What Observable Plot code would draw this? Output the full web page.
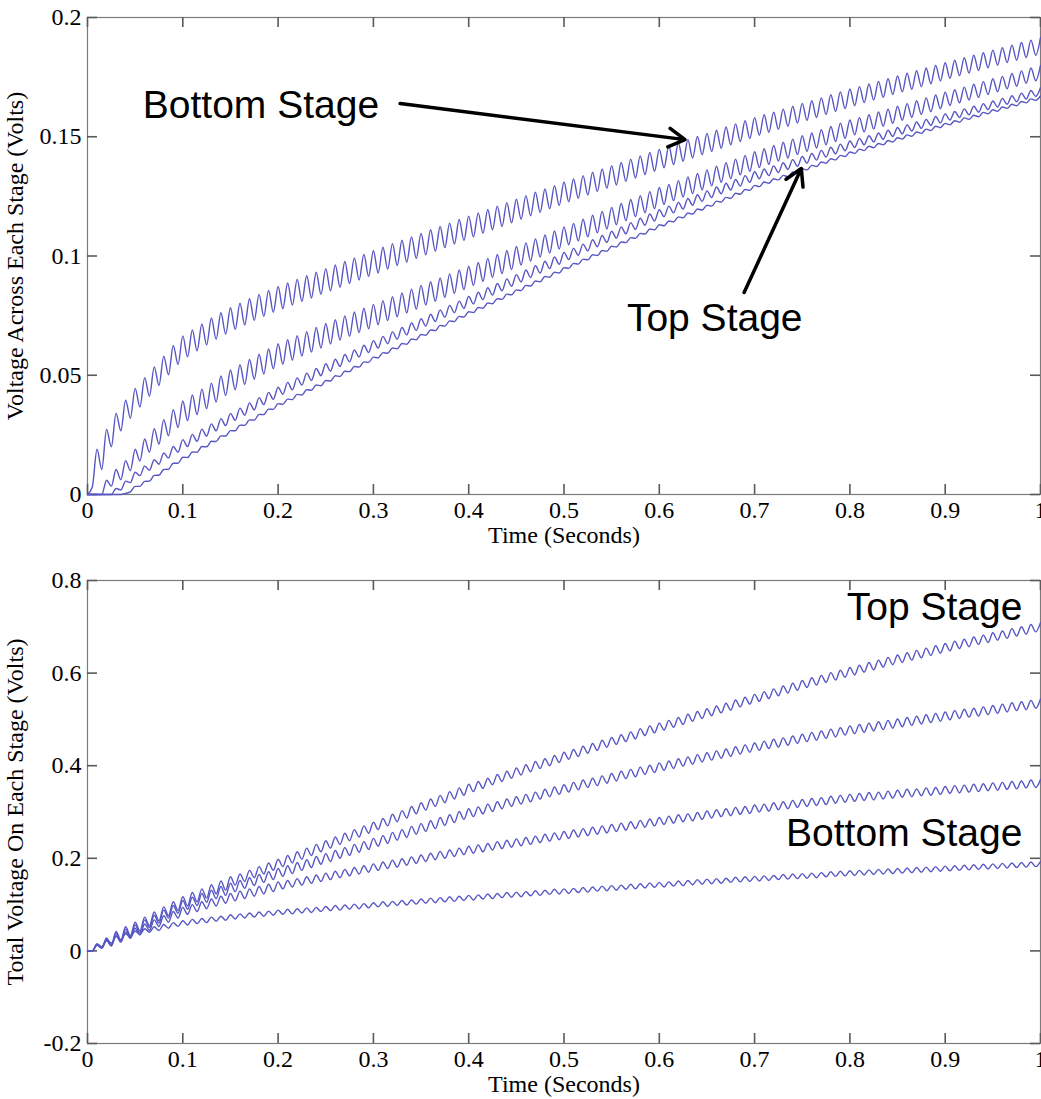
<!DOCTYPE html>
<html>
<head>
<meta charset="utf-8">
<script src="https://cdn.jsdelivr.net/npm/d3@7"></script>
<script src="https://cdn.jsdelivr.net/npm/@observablehq/plot@0.6"></script>
<style>
  html, body { margin: 0; padding: 0; background: #fff; }
  #chart { width: 1041px; height: 1099px; overflow: hidden; }
  #chart svg { display: block; }
</style>
</head>
<body>
<div id="chart"></div>
<script>
// ---- tick labels ----
const xTicks = [0, 0.1, 0.2, 0.3, 0.4, 0.5, 0.6, 0.7, 0.8, 0.9, 1];
const yTicksTop = [0, 0.05, 0.1, 0.15, 0.2];
const yTicksBottom = [-0.2, 0, 0.2, 0.4, 0.6, 0.8];

// ripple: one cycle every 0.01 s (extremes every 0.005 s)
const halfPeriod = 0.005;

// ---- top panel: voltage across each stage, in units of 0.1 mV ----
// peaks at t = 0.01..1.00, troughs at t = 0.005..0.995
const acrossBottomPeaks = [190,273,340,395,445,490,535,580,625,665,690,715,740,762,783,802,821,839,856,872,887,902,917,932,947,962,977,992,1007,1022,1037,1052,1066,1080,1095,1110,1124,1138,1153,1167,1181,1195,1209,1224,1238,1253,1267,1281,1295,1310,1323,1337,1351,1365,1379,1392,1406,1420,1434,1447,1461,1474,1488,1501,1514,1527,1541,1554,1567,1580,1592,1603,1616,1628,1640,1651,1663,1676,1688,1700,1710,1721,1732,1743,1755,1766,1777,1788,1799,1810,1821,1831,1842,1852,1863,1873,1884,1895,1905,1916];
const acrossBottomTroughs = [30,105,200,267,320,367,412,457,502,545,577,602,627,651,672,692,711,730,747,764,779,794,809,824,839,854,869,884,899,914,929,945,960,974,990,1005,1020,1035,1050,1065,1080,1095,1110,1124,1139,1154,1169,1183,1198,1212,1227,1242,1256,1270,1284,1298,1313,1327,1341,1355,1370,1383,1397,1411,1425,1438,1452,1466,1480,1493,1506,1519,1531,1544,1557,1569,1581,1593,1606,1618,1630,1643,1654,1665,1677,1688,1699,1710,1722,1734,1745,1756,1767,1778,1789,1800,1811,1821,1832,1842];
const across2Peaks = [0,60,105,142,190,233,276,314,356,392,417,442,467,497,522,544,566,588,610,632,649,666,683,700,717,733,749,765,781,797,813,829,845,861,877,892,908,925,941,957,973,990,1006,1023,1040,1055,1072,1088,1105,1122,1137,1154,1171,1187,1204,1220,1237,1253,1270,1287,1300,1316,1331,1346,1361,1376,1391,1406,1422,1437,1450,1463,1477,1490,1504,1516,1530,1543,1557,1570,1580,1592,1604,1616,1628,1639,1651,1663,1675,1687,1697,1708,1720,1731,1743,1753,1765,1776,1788,1799];
const across2Troughs = [0,0,35,62,100,140,177,211,246,281,310,335,360,388,415,439,461,483,505,527,546,563,580,597,614,631,647,663,679,695,712,729,745,761,777,794,810,826,843,859,876,893,910,926,943,962,979,996,1012,1029,1047,1063,1080,1097,1113,1131,1148,1165,1181,1198,1216,1232,1247,1262,1277,1294,1309,1324,1340,1355,1371,1384,1398,1411,1425,1439,1453,1466,1480,1493,1508,1520,1532,1544,1556,1569,1581,1593,1605,1617,1631,1642,1654,1665,1677,1689,1701,1712,1724,1735];
const across3Peaks = [0,0,25,56,93,119,146,174,201,230,252,274,296,318,340,362,384,406,428,450,470,489,509,528,548,567,587,606,626,645,663,682,700,719,737,756,774,793,811,830,848,867,885,904,922,941,959,978,996,1015,1032,1050,1068,1086,1104,1122,1140,1158,1176,1194,1209,1225,1241,1257,1273,1289,1305,1321,1337,1353,1365,1378,1391,1404,1417,1430,1443,1456,1469,1482,1493,1504,1516,1527,1539,1550,1562,1573,1585,1596,1606,1617,1628,1639,1650,1661,1672,1683,1694,1705];
const across3Troughs = [0,0,0,19,50,79,102,127,153,177,201,223,245,267,289,311,333,355,377,399,420,439,459,478,498,517,537,556,576,595,614,632,651,669,688,706,725,743,762,780,799,817,836,854,873,891,910,928,947,965,985,1003,1021,1039,1057,1075,1093,1111,1129,1147,1165,1181,1197,1213,1229,1245,1261,1277,1293,1309,1324,1337,1350,1363,1376,1389,1402,1415,1428,1441,1455,1466,1478,1489,1501,1512,1524,1535,1547,1558,1570,1581,1592,1603,1614,1625,1636,1647,1658,1669];
const acrossTopPeaks = [0,0,0,5,34,55,80,105,131,156,178,201,223,246,268,291,313,336,358,381,400,420,439,459,478,498,517,537,556,576,595,614,633,652,671,690,709,728,747,766,784,803,821,840,858,877,895,914,932,951,969,987,1005,1023,1041,1059,1077,1095,1113,1131,1147,1164,1180,1197,1213,1230,1246,1263,1279,1296,1310,1324,1338,1352,1366,1380,1394,1408,1422,1436,1448,1460,1472,1484,1496,1508,1520,1532,1544,1556,1567,1579,1590,1602,1613,1625,1636,1648,1659,1671];
const acrossTopTroughs = [0,0,0,0,11,34,56,81,106,131,155,177,200,222,245,267,290,312,335,357,378,398,417,437,456,476,495,515,534,554,573,592,611,630,649,668,687,706,725,744,763,781,800,818,837,855,874,892,911,929,948,966,984,1002,1020,1038,1056,1074,1092,1110,1127,1143,1160,1176,1193,1209,1226,1242,1259,1275,1291,1305,1319,1333,1347,1361,1375,1389,1403,1417,1430,1442,1454,1466,1478,1490,1502,1514,1526,1538,1550,1561,1573,1584,1596,1607,1619,1630,1642,1653];

// ---- bottom panel: total voltage on each stage, in mV ----
const totalTopPeaks = [15,28,42,52,62,73,84,95,106,117,126,134,143,151,160,166,174,182,190,198,206,214,222,230,238,246,254,262,270,278,286,295,303,312,320,328,336,344,352,360,366,373,381,388,395,402,409,415,422,429,435,442,448,455,461,467,473,480,486,492,498,504,511,517,523,529,535,542,548,554,560,566,572,578,584,590,595,601,606,612,617,623,628,634,639,644,649,654,659,664,669,673,678,682,687,691,696,700,705,709];
const totalTopTroughs = [0,7,13,23,33,43,54,65,76,87,97,106,114,123,131,142,150,158,166,174,182,190,198,206,214,222,230,238,246,254,262,270,279,287,296,304,312,320,328,336,344,351,359,366,373,380,387,394,400,407,414,420,427,433,440,446,452,458,465,471,477,483,489,496,502,508,514,520,527,533,539,545,551,557,563,569,574,580,585,591,596,602,607,613,618,623,628,633,638,643,648,653,657,662,666,671,675,680,684,689];
const total3Peaks = [13,25,38,47,56,67,77,88,98,109,116,124,131,139,146,152,158,165,171,178,184,191,197,204,210,217,223,230,236,243,249,256,262,269,275,281,288,294,301,307,311,317,322,328,333,338,343,349,354,359,364,369,373,378,383,388,392,397,401,406,410,415,419,424,428,432,436,441,445,449,453,457,460,464,468,472,475,479,482,486,489,492,495,498,501,504,507,510,513,516,519,522,524,527,530,533,536,538,541,544];
const total3Troughs = [0,6,11,20,29,39,50,60,71,81,90,98,105,113,120,128,135,141,148,154,161,167,174,180,187,193,200,206,213,219,226,232,239,245,252,258,264,271,277,284,290,296,301,307,312,317,322,328,333,338,343,348,353,357,362,367,372,376,381,385,390,394,399,403,408,412,416,420,425,429,433,437,440,444,448,452,455,459,462,466,469,472,475,478,481,484,487,490,493,496,499,502,505,507,510,513,516,519,521,524];
const total2Peaks = [12,22,33,41,49,58,67,76,85,94,100,106,112,118,124,129,134,139,144,149,152,156,160,164,168,172,176,180,184,188,192,196,199,203,207,211,215,218,222,226,229,232,236,239,242,245,248,252,255,258,261,264,267,270,273,276,279,282,285,288,291,294,296,299,302,305,307,310,312,315,317,320,322,325,327,329,331,334,336,338,340,342,343,345,347,349,350,352,353,355,357,358,360,361,363,364,366,367,369,370];
const total2Troughs = [0,6,11,19,27,35,44,53,62,71,79,85,91,97,103,108,113,118,123,128,134,138,142,146,150,154,158,162,166,170,174,178,181,185,189,193,197,200,204,208,211,214,218,221,224,227,230,234,237,240,243,246,249,252,255,258,261,264,267,270,273,276,279,281,284,287,290,292,295,297,300,302,305,307,310,312,314,316,319,321,323,325,326,328,330,332,333,335,336,338,340,341,343,344,346,347,349,350,352,353];
const totalBottomPeaks = [15,23,31,37,43,48,52,57,61,65,68,70,73,75,78,80,82,84,86,88,90,91,93,94,96,98,99,101,102,104,106,107,109,110,112,114,115,117,118,120,121,123,124,126,127,128,130,131,133,134,135,137,138,140,141,142,144,145,147,148,149,151,152,154,155,156,157,159,160,161,162,163,165,166,167,168,169,171,172,173,174,175,176,177,178,179,180,181,182,183,184,185,186,187,188,189,190,191,192,193];
const totalBottomTroughs = [0,9,17,24,30,35,40,44,49,53,56,59,61,64,66,69,71,73,75,77,79,80,82,83,85,87,88,90,91,93,95,96,98,99,101,103,104,106,107,109,110,112,113,115,116,117,119,120,122,123,124,126,127,129,130,131,133,134,136,137,138,140,141,143,144,145,146,148,149,150,151,152,154,155,156,157,158,160,161,162,163,164,165,166,167,168,169,170,171,172,173,174,175,176,177,178,179,180,181,182];

// ---- annotations ----
const topLabels = [
  {label: "Bottom Stage", t: 0.058, v: 0.1632},
  {label: "Top Stage", t: 0.566, v: 0.0738}
];
const topArrows = [
  {t1: 0.328, v1: 0.1639, t2: 0.627, v2: 0.1488},
  {t1: 0.689, v1: 0.0847, t2: 0.749, v2: 0.1367}
];
const bottomLabels = [
  {label: "Top Stage", t: 0.981, v: 0.741},
  {label: "Bottom Stage", t: 0.981, v: 0.2527}
];

const lineColor = "#5656c4";
const axisGray = "#5a5a5a";
const serif = "'Liberation Serif', 'Times New Roman', serif";
const sans = "'Liberation Sans', Arial, sans-serif";
const W = 1041, ML = 87, MR = 1;
const tickLen = 10;

function series(name, peaks, troughs, unit) {
  const pts = [{name, t: 0, v: 0}];
  for (let i = 0; i < peaks.length; i++) {
    pts.push({name, t: (2 * i + 1) * halfPeriod, v: troughs[i] * unit});
    pts.push({name, t: (2 * i + 2) * halfPeriod, v: peaks[i] * unit});
  }
  return pts;
}

const topData = [
  ...series("bottom", acrossBottomPeaks, acrossBottomTroughs, 1e-4),
  ...series("s2", across2Peaks, across2Troughs, 1e-4),
  ...series("s3", across3Peaks, across3Troughs, 1e-4),
  ...series("top", acrossTopPeaks, acrossTopTroughs, 1e-4)
];
const bottomData = [
  ...series("top", totalTopPeaks, totalTopTroughs, 1e-3),
  ...series("s3", total3Peaks, total3Troughs, 1e-3),
  ...series("s2", total2Peaks, total2Troughs, 1e-3),
  ...series("bottom", totalBottomPeaks, totalBottomTroughs, 1e-3)
];

function axes(yTicks, yLabel, innerH) {
  const innerW = W - ML - MR;
  return [
    Plot.frame({stroke: "#7a7a7a", strokeWidth: 1.2, fill: "none"}),
    Plot.axisX({ticks: xTicks, tickSize: 0, tickPadding: 6, tickFormat: d => String(d),
      label: "Time (Seconds)", labelAnchor: "center", labelArrow: "none", labelOffset: 48}),
    Plot.axisY({ticks: yTicks, tickSize: 0, tickPadding: 6, tickFormat: d => String(d),
      label: yLabel, labelAnchor: "center", labelArrow: "none", labelOffset: 82}),
    // inward ticks on all four sides (MATLAB box style)
    Plot.ruleX(xTicks, {x: d => d, stroke: axisGray, strokeWidth: 1.6, insetTop: innerH - tickLen}),
    Plot.ruleX(xTicks, {x: d => d, stroke: axisGray, strokeWidth: 1.6, insetBottom: innerH - tickLen}),
    Plot.ruleY(yTicks, {y: d => d, stroke: axisGray, strokeWidth: 1.6, insetRight: innerW - tickLen}),
    Plot.ruleY(yTicks, {y: d => d, stroke: axisGray, strokeWidth: 1.6, insetLeft: innerW - tickLen})
  ];
}

const plotStyle = {fontFamily: serif, fontSize: "24px", color: "#000", background: "#fff", overflow: "visible"};

const topPlot = Plot.plot({
  width: W, height: 550,
  marginLeft: ML, marginRight: MR, marginTop: 17, marginBottom: 56,
  style: plotStyle,
  x: {domain: [0, 1]},
  y: {domain: [0, 0.2]},
  marks: [
    ...axes(yTicksTop, "Voltage Across Each Stage (Volts)", 550 - 17 - 56),
    Plot.line(topData, {x: "t", y: "v", z: "name", stroke: lineColor, strokeWidth: 1.4, curve: "monotone-x"}),
    Plot.arrow(topArrows, {x1: "t1", y1: "v1", x2: "t2", y2: "v2", stroke: "#000", strokeWidth: 3.5, headLength: 8, headAngle: 60}),
    Plot.text(topLabels, {x: "t", y: "v", text: "label", textAnchor: "start", lineAnchor: "middle", fontFamily: sans, fontSize: 39, fill: "#000"})
  ]
});

const bottomPlot = Plot.plot({
  width: W, height: 549,
  marginLeft: ML, marginRight: MR, marginTop: 30, marginBottom: 56,
  style: plotStyle,
  x: {domain: [0, 1]},
  y: {domain: [-0.2, 0.8]},
  marks: [
    ...axes(yTicksBottom, "Total Voltage On Each Stage (Volts)", 549 - 30 - 56),
    Plot.line(bottomData, {x: "t", y: "v", z: "name", stroke: lineColor, strokeWidth: 1.4, curve: "monotone-x"}),
    Plot.text(bottomLabels, {x: "t", y: "v", text: "label", textAnchor: "end", lineAnchor: "middle", fontFamily: sans, fontSize: 39, fill: "#000"})
  ]
});

document.getElementById("chart").append(topPlot, bottomPlot);
</script>
</body>
</html>
